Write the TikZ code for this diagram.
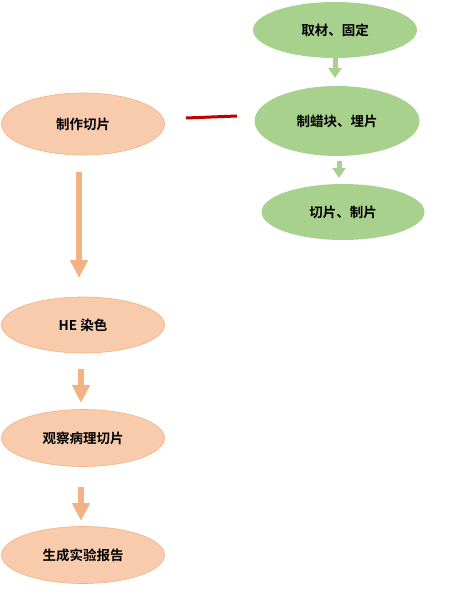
\documentclass[tikz,border=0pt]{standalone}
\usepackage{fontspec}
\setmainfont{Noto Sans CJK SC}[BoldFont={Noto Sans CJK SC Bold}]
\usetikzlibrary{arrows.meta,shapes.geometric}
\definecolor{peach}{HTML}{F8CBAD}
\definecolor{peachedge}{HTML}{F4B183}
\definecolor{leaf}{HTML}{A9D18E}
\definecolor{darkred}{HTML}{C00000}
\begin{document}
\begin{tikzpicture}[x=1pt,y=-1pt,
  orangebox/.style={ellipse,fill=peach,draw=peachedge,line width=0.6pt,minimum width=163pt,inner sep=0pt,font=\bfseries\fontsize{13.5}{15}\selectfont},
  greenbox/.style={ellipse,fill=leaf,draw=none,inner sep=0pt,font=\bfseries\fontsize{13.5}{15}\selectfont},
  bigarrow/.style={draw=peachedge,line width=6.5pt,-{Triangle[width=17pt,length=18pt]}},
  smallarrow/.style={draw=leaf,line width=5pt,-{Triangle[width=13pt,length=10pt]}},
  redline/.style={draw=darkred,line width=3pt}]
\useasboundingbox (0,0) rectangle (469,604);
% left column
\node[orangebox,minimum height=62pt] (cut) at (83,124) {制作切片};
\node[orangebox,minimum height=56pt] (he) at (83,325) {HE 染色};
\node[orangebox,minimum height=57pt] (obs) at (83,438) {观察病理切片};
\node[orangebox,minimum height=57pt] (rep) at (83,555) {生成实验报告};
% right column
\node[greenbox,minimum width=164pt,minimum height=56pt] (fix) at (335,30) {取材、固定};
\node[greenbox,minimum width=165pt,minimum height=70pt] (wax) at (337,121) {制蜡块、埋片};
\node[greenbox,minimum width=163pt,minimum height=56pt] (slice) at (343,212) {切片、制片};
% arrows
\coordinate (a1s) at (79,172); \coordinate (a1e) at (79,278);
\coordinate (a2s) at (81,369); \coordinate (a2e) at (81,403);
\coordinate (a3s) at (81,487); \coordinate (a3e) at (81,521);
\coordinate (g1s) at (335,58); \coordinate (g1e) at (335,78);
\coordinate (g2s) at (339,161); \coordinate (g2e) at (339,178);
\coordinate (r1) at (186,118); \coordinate (r2) at (237,116);
\draw[bigarrow] (a1s) -- (a1e);
\draw[bigarrow] (a2s) -- (a2e);
\draw[bigarrow] (a3s) -- (a3e);
\draw[smallarrow] (g1s) -- (g1e);
\draw[smallarrow] (g2s) -- (g2e);
\draw[redline] (r1) -- (r2);
\end{tikzpicture}
\end{document}
